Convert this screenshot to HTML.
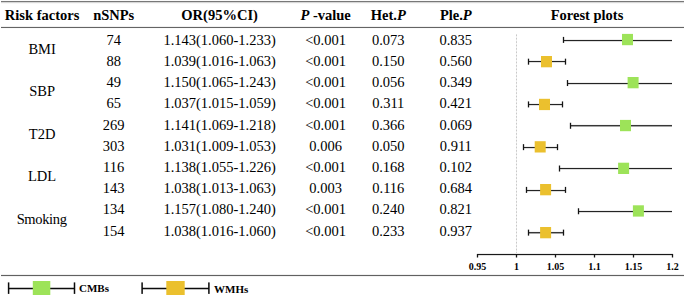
<!DOCTYPE html>
<html><head><meta charset="utf-8"><style>
html,body{margin:0;padding:0;background:#fff;}
body{width:685px;height:301px;overflow:hidden;}
svg{display:block;}
text{font-family:"Liberation Serif",serif;fill:#000;}
.h{font-weight:bold;font-size:14.5px;}
.d{font-size:14.5px;}
.ax{font-weight:bold;font-size:10px;}
.lg{font-weight:bold;font-size:11px;}
</style></head><body>
<svg width="685" height="301" viewBox="0 0 685 301">
<rect width="685" height="301" fill="#fff"/>
<rect x="1" y="0" width="683" height="1" fill="rgb(250,250,250)" shape-rendering="crispEdges"/>
<rect x="1" y="1" width="683" height="1" fill="rgb(120,120,120)" shape-rendering="crispEdges"/>
<rect x="1" y="2" width="683" height="1" fill="rgb(215,215,215)" shape-rendering="crispEdges"/>
<rect x="1" y="3" width="683" height="1" fill="rgb(248,248,248)" shape-rendering="crispEdges"/>
<rect x="1" y="26" width="683" height="1" fill="rgb(240,240,240)" shape-rendering="crispEdges"/>
<rect x="1" y="27" width="683" height="1" fill="rgb(100,100,100)" shape-rendering="crispEdges"/>
<rect x="1" y="28" width="683" height="1" fill="rgb(250,250,250)" shape-rendering="crispEdges"/>
<rect x="1" y="274" width="683" height="1" fill="rgb(240,240,240)" shape-rendering="crispEdges"/>
<rect x="1" y="275" width="683" height="1" fill="rgb(97,97,97)" shape-rendering="crispEdges"/>
<rect x="1" y="276" width="683" height="1" fill="rgb(242,242,242)" shape-rendering="crispEdges"/>
<text class="h" x="42.1" y="20.2" text-anchor="middle">Risk factors</text>
<text class="h" x="113.7" y="20.2" text-anchor="middle">nSNPs</text>
<text class="h" x="219.6" y="20.2" text-anchor="middle">OR(95%CI)</text>
<text class="h" x="325.6" y="20.2" text-anchor="middle"><tspan font-style="italic">P</tspan> -value</text>
<text class="h" x="388.3" y="20.2" text-anchor="middle">Het.<tspan font-style="italic">P</tspan></text>
<text class="h" x="455.8" y="20.2" text-anchor="middle">Ple.<tspan font-style="italic">P</tspan></text>
<text class="h" x="587" y="20.2" text-anchor="middle">Forest plots</text>
<text class="d" x="42.1" y="53.90" text-anchor="middle">BMI</text>
<text class="d" x="42.1" y="96.30" text-anchor="middle">SBP</text>
<text class="d" x="42.1" y="138.70" text-anchor="middle">T2D</text>
<text class="d" x="42.1" y="181.10" text-anchor="middle">LDL</text>
<text class="d" x="41.6" y="223.50" text-anchor="middle" letter-spacing="-0.35">Smoking</text>
<text class="d" x="113.7" y="44.90" text-anchor="middle">74</text>
<text class="d" x="219.6" y="44.90" text-anchor="middle">1.143(1.060-1.233)</text>
<text class="d" x="325.6" y="44.90" text-anchor="middle">&lt;0.001</text>
<text class="d" x="388.3" y="44.90" text-anchor="middle">0.073</text>
<text class="d" x="455.8" y="44.90" text-anchor="middle">0.835</text>
<text class="d" x="113.7" y="66.09" text-anchor="middle">88</text>
<text class="d" x="219.6" y="66.09" text-anchor="middle">1.039(1.016-1.063)</text>
<text class="d" x="325.6" y="66.09" text-anchor="middle">&lt;0.001</text>
<text class="d" x="388.3" y="66.09" text-anchor="middle">0.150</text>
<text class="d" x="455.8" y="66.09" text-anchor="middle">0.560</text>
<text class="d" x="113.7" y="87.28" text-anchor="middle">49</text>
<text class="d" x="219.6" y="87.28" text-anchor="middle">1.150(1.065-1.243)</text>
<text class="d" x="325.6" y="87.28" text-anchor="middle">&lt;0.001</text>
<text class="d" x="388.3" y="87.28" text-anchor="middle">0.056</text>
<text class="d" x="455.8" y="87.28" text-anchor="middle">0.349</text>
<text class="d" x="113.7" y="108.47" text-anchor="middle">65</text>
<text class="d" x="219.6" y="108.47" text-anchor="middle">1.037(1.015-1.059)</text>
<text class="d" x="325.6" y="108.47" text-anchor="middle">&lt;0.001</text>
<text class="d" x="388.3" y="108.47" text-anchor="middle">0.311</text>
<text class="d" x="455.8" y="108.47" text-anchor="middle">0.421</text>
<text class="d" x="113.7" y="129.66" text-anchor="middle">269</text>
<text class="d" x="219.6" y="129.66" text-anchor="middle">1.141(1.069-1.218)</text>
<text class="d" x="325.6" y="129.66" text-anchor="middle">&lt;0.001</text>
<text class="d" x="388.3" y="129.66" text-anchor="middle">0.366</text>
<text class="d" x="455.8" y="129.66" text-anchor="middle">0.069</text>
<text class="d" x="113.7" y="150.85" text-anchor="middle">303</text>
<text class="d" x="219.6" y="150.85" text-anchor="middle">1.031(1.009-1.053)</text>
<text class="d" x="325.6" y="150.85" text-anchor="middle">0.006</text>
<text class="d" x="388.3" y="150.85" text-anchor="middle">0.050</text>
<text class="d" x="455.8" y="150.85" text-anchor="middle">0.911</text>
<text class="d" x="113.7" y="172.04" text-anchor="middle">116</text>
<text class="d" x="219.6" y="172.04" text-anchor="middle">1.138(1.055-1.226)</text>
<text class="d" x="325.6" y="172.04" text-anchor="middle">&lt;0.001</text>
<text class="d" x="388.3" y="172.04" text-anchor="middle">0.168</text>
<text class="d" x="455.8" y="172.04" text-anchor="middle">0.102</text>
<text class="d" x="113.7" y="193.23" text-anchor="middle">143</text>
<text class="d" x="219.6" y="193.23" text-anchor="middle">1.038(1.013-1.063)</text>
<text class="d" x="325.6" y="193.23" text-anchor="middle">0.003</text>
<text class="d" x="388.3" y="193.23" text-anchor="middle">0.116</text>
<text class="d" x="455.8" y="193.23" text-anchor="middle">0.684</text>
<text class="d" x="113.7" y="214.42" text-anchor="middle">134</text>
<text class="d" x="219.6" y="214.42" text-anchor="middle">1.157(1.080-1.240)</text>
<text class="d" x="325.6" y="214.42" text-anchor="middle">&lt;0.001</text>
<text class="d" x="388.3" y="214.42" text-anchor="middle">0.240</text>
<text class="d" x="455.8" y="214.42" text-anchor="middle">0.821</text>
<text class="d" x="113.7" y="235.61" text-anchor="middle">154</text>
<text class="d" x="219.6" y="235.61" text-anchor="middle">1.038(1.016-1.060)</text>
<text class="d" x="325.6" y="235.61" text-anchor="middle">&lt;0.001</text>
<text class="d" x="388.3" y="235.61" text-anchor="middle">0.233</text>
<text class="d" x="455.8" y="235.61" text-anchor="middle">0.937</text>
<rect x="516" y="34" width="1" height="219" fill="#f2f2f2" shape-rendering="crispEdges"/>
<line x1="516.5" y1="34.5" x2="516.5" y2="253.5" stroke="#c8c8c8" stroke-width="1" stroke-dasharray="1.6 1.8"/>
<rect x="563" y="39" width="109" height="1" fill="rgb(238,238,238)" shape-rendering="crispEdges"/>
<rect x="563" y="40" width="109" height="1" fill="rgb(36,36,36)" shape-rendering="crispEdges"/>
<rect x="563" y="41" width="109" height="1" fill="rgb(222,222,222)" shape-rendering="crispEdges"/>
<rect x="562.85" y="36.9" width="1.3" height="6" fill="#141414"/>
<rect x="622.0" y="33.9" width="11" height="11.3" fill="#9DE359"/>
<rect x="528" y="60" width="38" height="1" fill="rgb(238,238,238)" shape-rendering="crispEdges"/>
<rect x="528" y="61" width="38" height="1" fill="rgb(36,36,36)" shape-rendering="crispEdges"/>
<rect x="528" y="62" width="38" height="1" fill="rgb(222,222,222)" shape-rendering="crispEdges"/>
<rect x="527.85" y="58.67" width="1.3" height="6" fill="#141414"/>
<rect x="564.85" y="58.67" width="1.3" height="6" fill="#141414"/>
<rect x="541.0" y="56.0" width="11" height="11.3" fill="#EBC02E"/>
<rect x="567" y="82" width="105" height="1" fill="rgb(238,238,238)" shape-rendering="crispEdges"/>
<rect x="567" y="83" width="105" height="1" fill="rgb(36,36,36)" shape-rendering="crispEdges"/>
<rect x="567" y="84" width="105" height="1" fill="rgb(222,222,222)" shape-rendering="crispEdges"/>
<rect x="566.85" y="80.04" width="1.3" height="6" fill="#141414"/>
<rect x="627.6" y="77.0" width="11" height="11.3" fill="#9DE359"/>
<rect x="528" y="103" width="35" height="1" fill="rgb(238,238,238)" shape-rendering="crispEdges"/>
<rect x="528" y="104" width="35" height="1" fill="rgb(36,36,36)" shape-rendering="crispEdges"/>
<rect x="528" y="105" width="35" height="1" fill="rgb(222,222,222)" shape-rendering="crispEdges"/>
<rect x="527.85" y="101.41" width="1.3" height="6" fill="#141414"/>
<rect x="561.85" y="101.41" width="1.3" height="6" fill="#141414"/>
<rect x="539.0" y="98.8" width="11" height="11.3" fill="#EBC02E"/>
<rect x="570" y="124" width="102" height="1" fill="rgb(245,245,245)" shape-rendering="crispEdges"/>
<rect x="570" y="125" width="102" height="1" fill="rgb(55,55,55)" shape-rendering="crispEdges"/>
<rect x="570" y="126" width="102" height="1" fill="rgb(165,165,165)" shape-rendering="crispEdges"/>
<rect x="569.85" y="122.78" width="1.3" height="6" fill="#141414"/>
<rect x="620.0" y="119.9" width="11" height="11.3" fill="#9DE359"/>
<rect x="523" y="146" width="35" height="1" fill="rgb(238,238,238)" shape-rendering="crispEdges"/>
<rect x="523" y="147" width="35" height="1" fill="rgb(36,36,36)" shape-rendering="crispEdges"/>
<rect x="523" y="148" width="35" height="1" fill="rgb(222,222,222)" shape-rendering="crispEdges"/>
<rect x="522.85" y="144.15" width="1.3" height="6" fill="#141414"/>
<rect x="556.85" y="144.15" width="1.3" height="6" fill="#141414"/>
<rect x="534.7" y="141.2" width="11" height="11.3" fill="#EBC02E"/>
<rect x="559" y="167" width="113" height="1" fill="rgb(238,238,238)" shape-rendering="crispEdges"/>
<rect x="559" y="168" width="113" height="1" fill="rgb(36,36,36)" shape-rendering="crispEdges"/>
<rect x="559" y="169" width="113" height="1" fill="rgb(222,222,222)" shape-rendering="crispEdges"/>
<rect x="558.85" y="165.52" width="1.3" height="6" fill="#141414"/>
<rect x="618.1" y="162.7" width="11" height="11.3" fill="#9DE359"/>
<rect x="526" y="189" width="40" height="1" fill="rgb(238,238,238)" shape-rendering="crispEdges"/>
<rect x="526" y="190" width="40" height="1" fill="rgb(36,36,36)" shape-rendering="crispEdges"/>
<rect x="526" y="191" width="40" height="1" fill="rgb(222,222,222)" shape-rendering="crispEdges"/>
<rect x="525.85" y="186.89" width="1.3" height="6" fill="#141414"/>
<rect x="564.85" y="186.89" width="1.3" height="6" fill="#141414"/>
<rect x="540.1" y="184.0" width="11" height="11.3" fill="#EBC02E"/>
<rect x="578" y="210" width="94" height="1" fill="rgb(238,238,238)" shape-rendering="crispEdges"/>
<rect x="578" y="211" width="94" height="1" fill="rgb(36,36,36)" shape-rendering="crispEdges"/>
<rect x="578" y="212" width="94" height="1" fill="rgb(222,222,222)" shape-rendering="crispEdges"/>
<rect x="577.85" y="208.26" width="1.3" height="6" fill="#141414"/>
<rect x="632.9" y="205.3" width="11" height="11.3" fill="#9DE359"/>
<rect x="528" y="231" width="36" height="1" fill="rgb(245,245,245)" shape-rendering="crispEdges"/>
<rect x="528" y="232" width="36" height="1" fill="rgb(55,55,55)" shape-rendering="crispEdges"/>
<rect x="528" y="233" width="36" height="1" fill="rgb(165,165,165)" shape-rendering="crispEdges"/>
<rect x="527.85" y="229.63" width="1.3" height="6" fill="#141414"/>
<rect x="562.85" y="229.63" width="1.3" height="6" fill="#141414"/>
<rect x="540.1" y="227.0" width="11" height="11.3" fill="#EBC02E"/>
<rect x="477" y="253" width="196" height="1" fill="rgb(235,235,235)" shape-rendering="crispEdges"/>
<rect x="477" y="254" width="196" height="1" fill="rgb(25,25,25)" shape-rendering="crispEdges"/>
<rect x="477" y="255" width="196" height="1" fill="rgb(225,225,225)" shape-rendering="crispEdges"/>
<rect x="476.85" y="254" width="1.3" height="3.5" fill="#141414"/>
<text class="ax" x="477.5" y="269.9" text-anchor="middle">0.95</text>
<rect x="515.85" y="254" width="1.3" height="3.5" fill="#141414"/>
<text class="ax" x="516.5" y="269.9" text-anchor="middle">1</text>
<rect x="554.85" y="254" width="1.3" height="3.5" fill="#141414"/>
<text class="ax" x="555.5" y="269.9" text-anchor="middle">1.05</text>
<rect x="593.85" y="254" width="1.3" height="3.5" fill="#141414"/>
<text class="ax" x="594.5" y="269.9" text-anchor="middle">1.1</text>
<rect x="632.85" y="254" width="1.3" height="3.5" fill="#141414"/>
<text class="ax" x="633.5" y="269.9" text-anchor="middle">1.15</text>
<rect x="671.85" y="254" width="1.3" height="3.5" fill="#141414"/>
<text class="ax" x="672.5" y="269.9" text-anchor="middle">1.2</text>
<rect x="8.5" y="288" width="66.0" height="1" fill="rgb(12,12,12)" shape-rendering="crispEdges"/>
<rect x="8.5" y="287" width="66.0" height="1" fill="rgb(195,195,195)" shape-rendering="crispEdges"/>
<rect x="8.5" y="289" width="66.0" height="1" fill="rgb(190,190,190)" shape-rendering="crispEdges"/>
<rect x="7.85" y="282.4" width="1.5" height="11.5" fill="#0a0a0a"/>
<rect x="73.75" y="282.4" width="1.5" height="11.5" fill="#0a0a0a"/>
<rect x="32.8" y="281" width="17.5" height="14" fill="#9DE359"/>
<text class="lg" x="79.0" y="292.3">CMBs</text>
<rect x="142" y="288" width="66.9" height="1" fill="rgb(12,12,12)" shape-rendering="crispEdges"/>
<rect x="142" y="287" width="66.9" height="1" fill="rgb(195,195,195)" shape-rendering="crispEdges"/>
<rect x="142" y="289" width="66.9" height="1" fill="rgb(190,190,190)" shape-rendering="crispEdges"/>
<rect x="141.35" y="282.4" width="1.5" height="11.5" fill="#0a0a0a"/>
<rect x="208.15" y="282.4" width="1.5" height="11.5" fill="#0a0a0a"/>
<rect x="166.3" y="281" width="18.4" height="14" fill="#EBC02E"/>
<text class="lg" x="214.0" y="292.8">WMHs</text>
</svg></body></html>
